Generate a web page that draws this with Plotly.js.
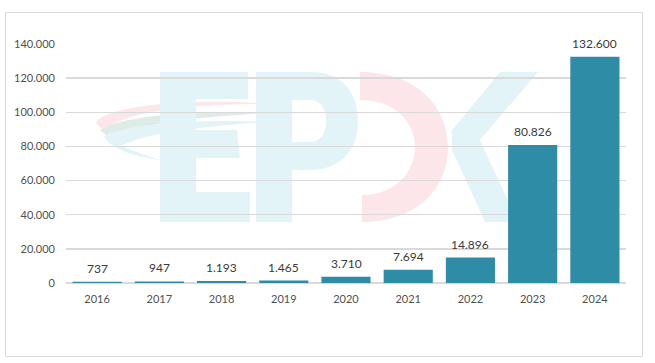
<!DOCTYPE html>
<html>
<head>
<meta charset="utf-8">
<script src="https://cdn.plot.ly/plotly-3.0.1.min.js"></script>
<style>
html,body{margin:0;padding:0;background:#fff;}
#wrap{position:relative;width:655px;height:363px;}
#logo{position:absolute;left:0;top:0;width:655px;height:363px;}
#chart{position:absolute;left:0;top:0;width:655px;height:363px;}
</style>
</head>
<body>
<div id="wrap">
<svg id="logo" width="655" height="363" viewBox="0 0 655 363">
  <path d="M96,122 C110,104 200,98 268,104 C200,104 125,110 106,130 C100,128 97,125 96,122 Z" fill="#fde6ea"/>
  <path d="M100,130 C125,114 210,110 270,113 C210,116 135,122 112,140 Z" fill="#dfebe7"/>
  <path d="M104,136 C130,122 215,119 268,122 C205,126 140,134 122,146 C135,152 148,156 160,160 C138,157 110,150 104,136 Z" fill="#e3f4f8"/>
  <path d="M160,72 L248,72 L248,99 L196,99 L196,130 L237,130 L240,158 L196,158 L196,192 L250,192 L250,222 L160,222 Z" fill="#e3f4f8"/>
  <path d="M256,72 L310,72 C345,72 358,95 358,122 C358,150 340,170 310,170 L292,170 L292,222 L256,222 Z M292,100 L292,142 L310,142 C320,142 326,134 326,121 C326,108 320,100 310,100 Z" fill="#e3f4f8" fill-rule="evenodd"/>
  <path d="M360,72 C420,72 448,110 448,147 C448,190 415,222 362,222 L362,195 C395,195 415,172 415,147 C415,122 395,100 360,100 Z" fill="#fde6ea"/>
  <path d="M500,72 L538,72 L480,140 L518,222 L485,222 L452,150 L452,130 Z" fill="#e3f4f8"/>
</svg>
<div id="chart"></div>
</div>
<script>
var years = ["2016","2017","2018","2019","2020","2021","2022","2023","2024"];
var values = [737, 947, 1193, 1465, 3710, 7694, 14896, 80826, 132600];
var labels = ["737","947","1.193","1.465","3.710","7.694","14.896","80.826","132.600"];
var yTicks = [0,20000,40000,60000,80000,100000,120000,140000];
var yTickText = ["0","20.000","40.000","60.000","80.000","100.000","120.000","140.000"];

var barColor = "#2E8CA6";
var idx = years.map(function(_, i){ return i; });

var trace = {
  type: "bar",
  x: idx,
  y: values,
  marker: {color: barColor, line: {width: 0}},
  hoverinfo: "none"
};

var annotations = idx.map(function(i){
  return {
    x: i, y: values[i], xref: "x", yref: "y",
    text: labels[i], showarrow: false,
    yanchor: "bottom", yshift: 4,
    font: {family: "Lato, 'Open Sans', sans-serif", size: 12, color: "#3a3a3a"}
  };
});

var layout = {
  width: 655, height: 363,
  margin: {l: 66, r: 29, t: 44, b: 80},
  paper_bgcolor: "rgba(0,0,0,0)",
  plot_bgcolor: "rgba(0,0,0,0)",
  bargap: 0.21,
  showlegend: false,
  font: {family: "Lato, 'Open Sans', sans-serif", size: 11, color: "#595959"},
  xaxis: {
    type: "linear",
    range: [-0.5, 8.5],
    tickvals: idx, ticktext: years,
    showgrid: false, zeroline: false, showline: false,
    ticks: "", ticklabelstandoff: 8,
    tickfont: {size: 11, color: "#505050"}
  },
  yaxis: {
    range: [0, 140000],
    tickvals: yTicks, ticktext: yTickText,
    showgrid: true, gridcolor: "#d9d9d9", gridwidth: 1.5,
    zeroline: true, zerolinecolor: "#d9d9d9", zerolinewidth: 1.5,
    showline: false, ticks: "", ticklabelstandoff: 10,
    tickfont: {size: 11, color: "#505050"}
  },
  annotations: annotations,
  shapes: [{
    type: "rect", xref: "paper", yref: "paper",
    x0: (5.5-66)/560, x1: (642.5-66)/560,
    y0: -(356.5-283)/239, y1: 1 + (44-12.5)/239,
    line: {color: "#d9d9d9", width: 1}, fillcolor: "rgba(0,0,0,0)", layer: "below"
  }]
};

Plotly.newPlot("chart", [trace], layout, {displayModeBar: false, staticPlot: true});
</script>
</body>
</html>
